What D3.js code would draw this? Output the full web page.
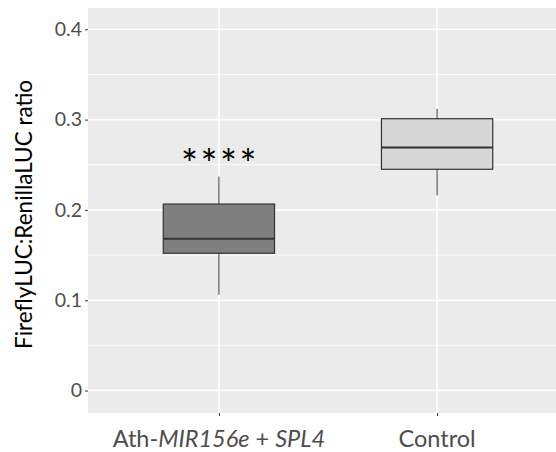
<!DOCTYPE html>
<html>
<head>
<meta charset="utf-8">
<script src="https://cdn.jsdelivr.net/npm/d3@7"></script>
<style>
  body { margin: 0; background: #fff; }
  text { font-family: Lato, "Open Sans", sans-serif; }
</style>
</head>
<body>
<div id="vis"></div>
<script>
// categories and five-number summaries
var groups = ["Ath", "Control"];
var lowWhisker = [0.106, 0.216];
var q1 = [0.152, 0.245];
var median = [0.168, 0.269];
var q3 = [0.2065, 0.301];
var highWhisker = [0.237, 0.312];
var boxFill = ["#7f7f7f", "#d7d7d7"];
var yTicks = [0, 0.1, 0.2, 0.3, 0.4];
var yMinor = [0.05, 0.15, 0.25, 0.35];
var signif = ["****", ""];

var width = 556, height = 452;
var margin = { top: 8, left: 88, bottom: 39, right: -12 };

var svg = d3.select("#vis").append("svg")
  .attr("width", width)
  .attr("height", height);

var pw = width - margin.left - margin.right;
var ph = height - margin.top - margin.bottom;

var g = svg.append("g")
  .attr("transform", "translate(" + margin.left + "," + margin.top + ")");

// clip the panel to the window
svg.append("clipPath").attr("id", "clip")
  .append("rect").attr("width", width - margin.left).attr("height", ph);

var x = d3.scalePoint()
  .domain(groups)
  .range([0, pw])
  .padding(0.6);

var y = d3.scaleLinear()
  .domain([-0.0249, 0.4236])
  .range([ph, 0]);

var unit = x.step();
var boxW = unit * 0.51;

var panel = g.append("g").attr("clip-path", "url(#clip)");

panel.append("rect")
  .attr("width", pw).attr("height", ph)
  .attr("fill", "#ebebeb");

panel.selectAll(".minor")
  .data(yMinor).enter().append("line")
  .attr("x1", 0).attr("x2", pw)
  .attr("y1", function(d) { return y(d); })
  .attr("y2", function(d) { return y(d); })
  .attr("stroke", "#fff").attr("stroke-width", 0.8);

panel.selectAll(".major")
  .data(yTicks).enter().append("line")
  .attr("x1", 0).attr("x2", pw)
  .attr("y1", function(d) { return y(d); })
  .attr("y2", function(d) { return y(d); })
  .attr("stroke", "#fff").attr("stroke-width", 1.6);

panel.selectAll(".vmajor")
  .data(groups).enter().append("line")
  .attr("x1", function(d) { return x(d); })
  .attr("x2", function(d) { return x(d); })
  .attr("y1", 0).attr("y2", ph)
  .attr("stroke", "#fff").attr("stroke-width", 1.6);

// boxes
var boxes = panel.selectAll(".box")
  .data(groups).enter().append("g");

boxes.append("line")
  .attr("x1", function(d) { return x(d); })
  .attr("x2", function(d) { return x(d); })
  .attr("y1", function(d, i) { return y(highWhisker[i]); })
  .attr("y2", function(d, i) { return y(q3[i]); })
  .attr("stroke", "#4a4a4a").attr("stroke-width", 1.1);

boxes.append("line")
  .attr("x1", function(d) { return x(d); })
  .attr("x2", function(d) { return x(d); })
  .attr("y1", function(d, i) { return y(q1[i]); })
  .attr("y2", function(d, i) { return y(lowWhisker[i]); })
  .attr("stroke", "#4a4a4a").attr("stroke-width", 1.1);

boxes.append("rect")
  .attr("x", function(d) { return x(d) - boxW / 2; })
  .attr("width", boxW)
  .attr("y", function(d, i) { return y(q3[i]); })
  .attr("height", function(d, i) { return y(q1[i]) - y(q3[i]); })
  .attr("fill", function(d, i) { return boxFill[i]; })
  .attr("stroke", "#333").attr("stroke-width", 1.2);

boxes.append("line")
  .attr("x1", function(d) { return x(d) - boxW / 2; })
  .attr("x2", function(d) { return x(d) + boxW / 2; })
  .attr("y1", function(d, i) { return y(median[i]); })
  .attr("y2", function(d, i) { return y(median[i]); })
  .attr("stroke", "#333").attr("stroke-width", 2);

// significance stars
g.selectAll(".sig")
  .data(groups).enter().append("text")
  .attr("x", function(d) { return x(d) + 1; })
  .attr("y", function(d, i) { return y(highWhisker[i]) + 2; })
  .attr("text-anchor", "middle")
  .attr("font-family", "DejaVu Sans")
  .attr("font-size", 40)
  .attr("letter-spacing", 2.5)
  .attr("fill", "#000")
  .text(function(d, i) { return signif[i]; });

// y axis
var yAxis = d3.axisLeft(y).tickValues(yTicks).tickSize(3).tickPadding(3)
  .tickFormat(function(d) { return d === 0 ? "0" : d3.format(".1f")(d); });
var ya = g.append("g").call(yAxis);
ya.select(".domain").remove();
ya.selectAll("line").attr("stroke", "#333");
ya.selectAll("text").attr("fill", "#4d4d4d").attr("font-size", 19.5)
  .attr("font-family", "Lato");

// x axis
var xAxis = d3.axisBottom(x).tickSize(3).tickPadding(6).tickFormat("");
var xa = g.append("g").attr("transform", "translate(0," + ph + ")").call(xAxis);
xa.select(".domain").remove();
xa.selectAll("line").attr("stroke", "#333");

var lab1 = xa.append("text")
  .attr("x", x("Ath")).attr("y", 34)
  .attr("text-anchor", "middle")
  .attr("fill", "#4d4d4d")
  .attr("font-size", 23.5)
  .attr("font-family", "Lato");
lab1.append("tspan").text("Ath-");
lab1.append("tspan").attr("font-style", "italic").text("MIR156e");
lab1.append("tspan").text(" + ");
lab1.append("tspan").attr("font-style", "italic").text("SPL4");

xa.append("text")
  .attr("x", x("Control")).attr("y", 34)
  .attr("text-anchor", "middle")
  .attr("fill", "#4d4d4d")
  .attr("font-size", 23.5)
  .attr("font-family", "Lato")
  .text("Control");

// y title
svg.append("text")
  .attr("transform", "translate(32," + (margin.top + y(0.195)) + ") rotate(-90)")
  .attr("text-anchor", "middle")
  .attr("fill", "#000")
  .attr("font-size", 22.5)
  .attr("font-family", "Lato")
  .text("FireflyLUC:RenillaLUC ratio");
</script>
</body>
</html>
